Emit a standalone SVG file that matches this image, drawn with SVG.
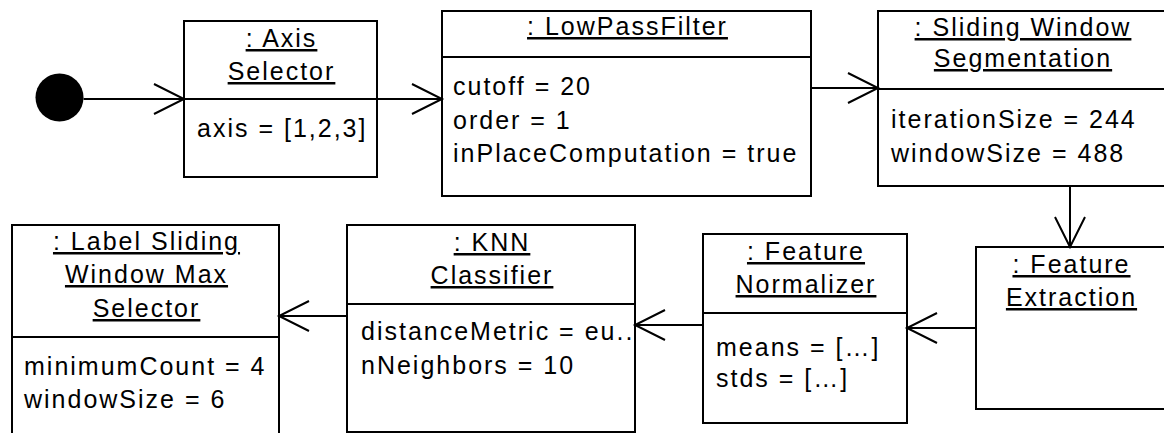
<svg xmlns="http://www.w3.org/2000/svg" width="1164" height="433" viewBox="0 0 1164 433">
  <style>
    .box { fill: #fff; stroke: #000; stroke-width: 2; }
    .div { stroke: #000; stroke-width: 2; }
    .edge { stroke: #000; stroke-width: 2; fill: none; }
    text { font-family: "Liberation Sans", Arial, sans-serif; font-size: 25px; letter-spacing: 2px; fill: #000; }
    .title { text-anchor: middle; text-decoration: underline; }
  </style>
  <defs>
    <marker id="open" markerUnits="userSpaceOnUse" markerWidth="40" markerHeight="40" viewBox="-34 -20 40 40" refX="0" refY="0" orient="auto">
      <path d="M -30 -15 L 0 0 L -30 15" fill="none" stroke="#000" stroke-width="2"/>
    </marker>
  </defs>

  <g id="start">
    <circle cx="59.5" cy="97.5" r="24" fill="#000"/>
  </g>

  <g id="axis-selector">
    <rect class="box" x="184" y="21" width="193" height="156"/>
    <line class="div" x1="184" y1="99" x2="377" y2="99"/>
    <text class="title" x="281.5" y="47">: Axis</text>
    <text class="title" x="281.5" y="80">Selector</text>
    <text x="197" y="137">axis = [1,2,3]</text>
  </g>

  <g id="low-pass-filter">
    <rect class="box" x="442" y="11" width="369" height="185"/>
    <line class="div" x1="442" y1="57" x2="811" y2="57"/>
    <text class="title" x="627.5" y="35">: LowPassFilter</text>
    <text x="453" y="95">cutoff = 20</text>
    <text x="453" y="129">order = 1</text>
    <text x="453" y="162">inPlaceComputation = true</text>
  </g>

  <g id="sliding-window-segmentation">
    <rect class="box" x="878" y="11" width="290" height="175"/>
    <line class="div" x1="878" y1="89" x2="1168" y2="89"/>
    <text class="title" x="1023" y="36">: Sliding Window</text>
    <text class="title" x="1023" y="67">Segmentation</text>
    <text x="891" y="128">iterationSize = 244</text>
    <text x="891" y="162">windowSize = 488</text>
  </g>

  <g id="feature-extraction">
    <rect class="box" x="976" y="247" width="192" height="162"/>
    <text class="title" x="1071.5" y="273">: Feature</text>
    <text class="title" x="1071.5" y="306">Extraction</text>
  </g>

  <g id="feature-normalizer">
    <rect class="box" x="703" y="234" width="204" height="189"/>
    <line class="div" x1="703" y1="313" x2="907" y2="313"/>
    <text class="title" x="806" y="260">: Feature</text>
    <text class="title" x="806" y="293">Normalizer</text>
    <text x="716" y="356">means = […]</text>
    <text x="716" y="387">stds = […]</text>
  </g>

  <g id="knn-classifier">
    <rect class="box" x="347" y="225" width="288" height="207"/>
    <line class="div" x1="347" y1="304" x2="635" y2="304"/>
    <text class="title" x="492" y="251">: KNN</text>
    <text class="title" x="492" y="284">Classifier</text>
    <text x="361" y="340">distanceMetric = eu..</text>
    <text x="361" y="374">nNeighbors = 10</text>
  </g>

  <g id="label-sliding-window-max-selector">
    <rect class="box" x="12" y="225" width="267" height="220"/>
    <line class="div" x1="12" y1="337" x2="279" y2="337"/>
    <text class="title" x="146.5" y="250">: Label Sliding</text>
    <text class="title" x="146.5" y="283">Window Max</text>
    <text class="title" x="146.5" y="317">Selector</text>
    <text x="24" y="375">minimumCount = 4</text>
    <text x="24" y="408">windowSize = 6</text>
  </g>

  <g id="connectors">
    <line class="edge" x1="83.5" y1="99" x2="184" y2="99" marker-end="url(#open)"/>
    <line class="edge" x1="377" y1="99" x2="442" y2="99" marker-end="url(#open)"/>
    <line class="edge" x1="811" y1="88" x2="878" y2="88" marker-end="url(#open)"/>
    <line class="edge" x1="1070" y1="186" x2="1070" y2="247" marker-end="url(#open)"/>
    <line class="edge" x1="976" y1="328" x2="907" y2="328" marker-end="url(#open)"/>
    <line class="edge" x1="703" y1="325" x2="635" y2="325" marker-end="url(#open)"/>
    <line class="edge" x1="347" y1="316" x2="279" y2="316" marker-end="url(#open)"/>
  </g>
</svg>
